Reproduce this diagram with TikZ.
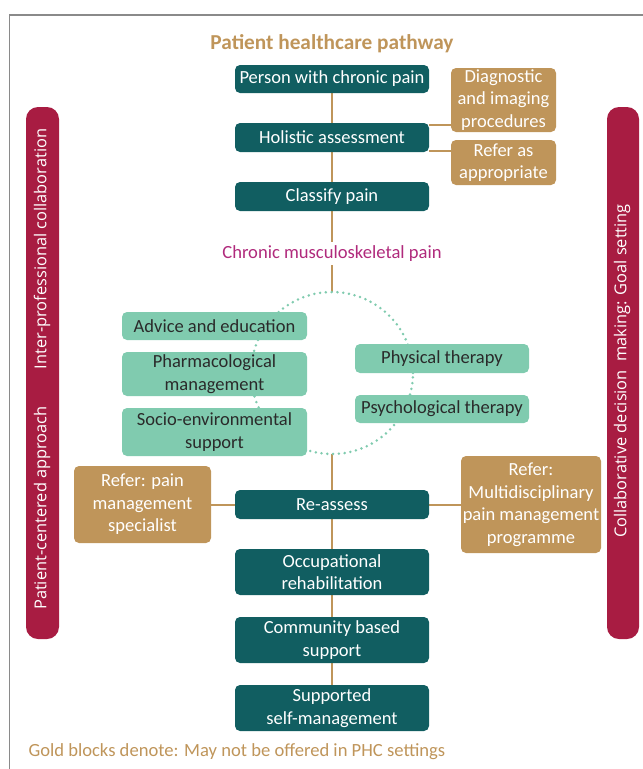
\documentclass[tikz,border=0pt]{standalone}
\usepackage{fontspec}
\setmainfont{Carlito}
\newfontfamily\barfont{Open Sans}
\usetikzlibrary{backgrounds,calc}
\definecolor{teal}{HTML}{115E61}
\definecolor{gold}{HTML}{BF955A}
\definecolor{mint}{HTML}{80CBAF}
\definecolor{crim}{HTML}{A81C42}
\definecolor{mag}{HTML}{B02A7C}
\definecolor{frame}{HTML}{8A8A8A}
\definecolor{darktxt}{HTML}{2A2A2A}
\tikzset{
  base/.style={rounded corners=5pt, inner sep=0pt, align=center, font=\fontsize{18.5}{22.5}\selectfont},
  tealbox/.style={base, fill=teal, text=white, minimum width=194pt},
  goldbox/.style={base, fill=gold, text=white},
  mintbox/.style={base, fill=mint, text=darktxt},
  conn/.style={draw=gold, line width=2pt},
  bar/.style={fill=crim, rounded corners=12pt},
  bartext/.style={text=white, rotate=90, font=\barfont\fontsize{16.4}{18}\selectfont},
}
\begin{document}
\begin{tikzpicture}[x=1pt,y=-1pt]
\useasboundingbox (0,0) rectangle (643,769);
% frame
\draw[frame, line width=1.4pt] (9.5,769) -- (9.5,15) -- (643,15);
% side bars
\fill[bar] (26,107) rectangle (59,639);
\fill[bar] (607,107) rectangle (639,639);
\node[bartext] (lbt1) at (42,249) {Inter-professional collaboration};
\node[bartext] (lbt2) at (42,508) {Patient-centered approach};
\node[bartext] (rbt) at (622,371) {Collaborative decision\ \ making: Goal setting};
% title
\node[font=\bfseries\fontsize{21.3}{24}\selectfont, text=gold] (title) at (332,44) {Patient healthcare pathway};
% main column
\node[tealbox, minimum height=28pt] (p1) at (332,79) {Person with chronic pain};
\node[tealbox, minimum height=29pt] (p2) at (332,137.5) {Holistic assessment};
\node[tealbox, minimum height=29pt] (p3) at (332,196.5) {Classify pain};
\node[goldbox, minimum width=105pt, minimum height=64pt] (g1) at (503.5,100) {Diagnostic\\and imaging\\procedures};
\node[goldbox, minimum width=105pt, minimum height=45pt] (g2) at (503.5,162.5) {Refer as\\appropriate};
\coordinate (h1) at ([yshift=-2pt]p2.north east);
\coordinate (h2) at ([yshift=1pt]p2.south east);
\coordinate (c1) at (332,242);
\node[text=mag, font=\fontsize{18.6}{20}\selectfont] (cmp) at (332,254) {Chronic musculoskeletal pain};
\coordinate (c2) at (332,265);
\coordinate (ctr) at (332,373);
\coordinate (ctop) at (332,292);
\coordinate (cbot) at (332,454);
% therapy boxes
\node[mintbox, minimum width=185pt, minimum height=28pt] (a1) at (214.5,326) {Advice and education};
\node[mintbox, minimum width=185pt, minimum height=44pt] (a2) at (214.5,374) {Pharmacological\\management};
\node[mintbox, minimum width=185pt, minimum height=48pt] (a3) at (214.5,432) {Socio-environmental\\support};
\node[mintbox, minimum width=174pt, minimum height=29pt] (b1) at (442,358.5) {Physical therapy};
\node[mintbox, minimum width=174pt, minimum height=28pt] (b2) at (442,409) {Psychological therapy};
% lower column
\node[tealbox, minimum height=29pt] (r) at (332,504.5) {Re-assess};
\node[goldbox, minimum width=137pt, minimum height=77pt] (gl) at (142.5,504.5) {Refer: pain\\management\\specialist};
\node[goldbox, minimum width=140pt, minimum height=97pt] (gr) at (531,504.5) {Refer:\\Multidisciplinary\\pain management\\programme};
\node[tealbox, minimum height=46pt] (o1) at (332,572) {Occupational\\rehabilitation};
\node[tealbox, minimum height=46pt] (o2) at (332,640) {Community based\\support};
\node[tealbox, minimum height=46pt] (o3) at (332,708) {Supported\\self-management};
\node[anchor=west, text=gold, font=\fontsize{18.6}{20}\selectfont] (foot) at (25,752) {Gold blocks denote: May not be offered in PHC settings};
% connectors on background
\begin{scope}[on background layer]
\draw[conn] (p1.south) -- (p2.north);
\draw[conn] (p2.south) -- (p3.north);
\draw[conn] (p3.south) -- (c1);
\draw[conn] (c2) -- (ctop);
\draw[conn] (h1) -- (g1.west |- h1);
\draw[conn] (h2) -- (g2.west |- h2);
\draw[conn] (cbot) -- (r.north);
\draw[conn] (gl.east) -- (r.west);
\draw[conn] (r.east) -- (gr.west);
\draw[conn] (r.south) -- (o1.north);
\draw[conn] (o1.south) -- (o2.north);
\draw[conn] (o2.south) -- (o3.north);
\draw[mint, line width=2.8pt, line cap=round, dash pattern=on 0pt off 5.8pt] (ctr) circle[radius=81pt];
\end{scope}
\end{tikzpicture}
\end{document}
